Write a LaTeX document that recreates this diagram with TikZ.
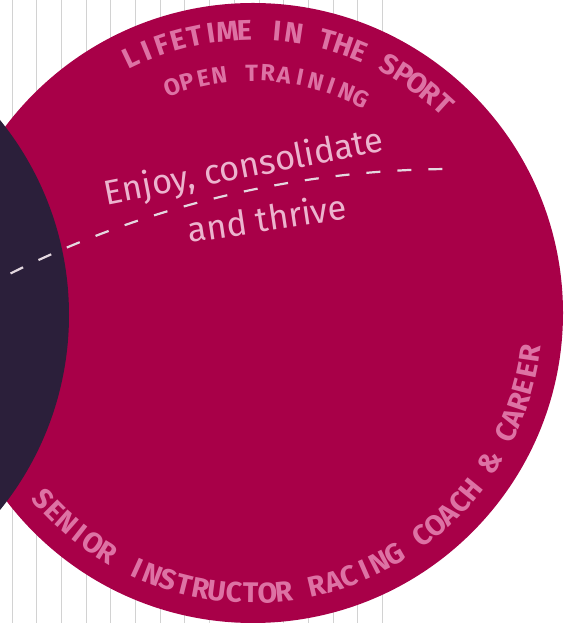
\documentclass[tikz,border=0pt]{standalone}
\usepackage{fontspec}
\setmainfont{Fira Sans}
\definecolor{crimson}{RGB}{168,0,72}
\definecolor{navy}{RGB}{43,31,58}
\definecolor{arcpink}{RGB}{221,114,164}
\definecolor{lightpink}{RGB}{236,180,206}
\definecolor{gridgray}{RGB}{210,210,210}
\definecolor{dashgray}{RGB}{228,216,224}
\newcommand\labfont{\fontsize{28.5}{28.5}\selectfont\bfseries}
\newcommand\smlabfont{\fontsize{23.5}{23.5}\selectfont\bfseries}
\newcommand\maintextfont{\fontsize{34.5}{34.5}\selectfont}
\newlength\atlen
% #1 name prefix, #2 cx, #3 cy, #4 radius, #5 start angle, #6 end angle,
% #7 direction (1 = clockwise, letters outward; -1 = counterclockwise, letters inward), #8 font, #9 letters
\newcommand\arcText[9]{%
  \gdef\atTotal{0}\gdef\atCount{0}%
  \foreach \ch in {#9}{%
    \settowidth\atlen{#8\ch}%
    \pgfmathparse{\atTotal+\atlen}\xdef\atTotal{\pgfmathresult}%
    \pgfmathparse{\atCount+1}\xdef\atCount{\pgfmathresult}%
  }%
  \pgfmathparse{(abs(#6-(#5))*pi/180*#4-\atTotal)/(\atCount-1)}\xdef\atTrack{\pgfmathresult}%
  \gdef\atPos{0}%
  \foreach \ch [count=\i] in {#9}{%
    \settowidth\atlen{#8\ch}%
    \pgfmathparse{#5-(#7)*deg((\atPos+\atlen/2)/#4)}\let\atAng\pgfmathresult
    \node[arclabel, rotate={\atAng-90*(#7)}] (#1-\i) at ({#2+#4*cos(\atAng)},{#3+#4*sin(\atAng)}) {#8\ch};
    \pgfmathparse{\atPos+\atlen+\atTrack}\xdef\atPos{\pgfmathresult}%
  }%
}
\begin{document}
\begin{tikzpicture}[x=1pt,y=1pt,
  gridline/.style={draw=gridgray, line width=1pt},
  bigdisc/.style={fill=crimson},
  darkdisc/.style={fill=navy},
  divider/.style={draw=dashgray, line width=2.2pt, dash pattern=on 14pt off 17pt},
  arclabel/.style={text=arcpink, inner sep=0pt, anchor=base},
  maintext/.style={text=lightpink, inner sep=0pt, anchor=base, font=\maintextfont}]
\useasboundingbox (0,0) rectangle (572,623);
\clip (0,0) rectangle (572,623);
\fill[white] (0,0) rectangle (572,623);
\foreach \k in {0,...,15} \draw[gridline] ({12+24.7*\k},0) -- ({12+24.7*\k},623);
\coordinate (redc) at (253,310);
\coordinate (darkc) at (-241,308);
\coordinate (dashc) at (454,-540);
\fill[bigdisc] (redc) circle[radius=310];
\fill[darkdisc] (darkc) circle[radius=310];
\draw[divider] (dashc) ++(116.5:994) arc[start angle=116.5, end angle=90, radius=994];
\node[maintext, rotate=11] (enjoy) at (246,445) {Enjoy, consolidate};
\node[maintext, rotate=8.5] (thrive) at (269,392) {and thrive};
\arcText{lts}{253}{310}{273}{115.5}{47.6}{1}{\labfont}{L,I,F,E,T,I,M,E,~,I,N,~,T,H,E,~,S,P,O,R,T}
\arcText{opn}{253}{310}{232}{109.7}{63.2}{1}{\smlabfont}{O,P,E,N,~,T,R,A,I,N,I,N,G}
\arcText{sen}{253}{310}{290}{-138.4}{-8.3}{-1}{\labfont}{S,E,N,I,O,R,~,I,N,S,T,R,U,C,T,O,R,~,R,A,C,I,N,G,~,C,O,A,C,H,~,\&,~,C,A,R,E,E,R}
\end{tikzpicture}
\end{document}
